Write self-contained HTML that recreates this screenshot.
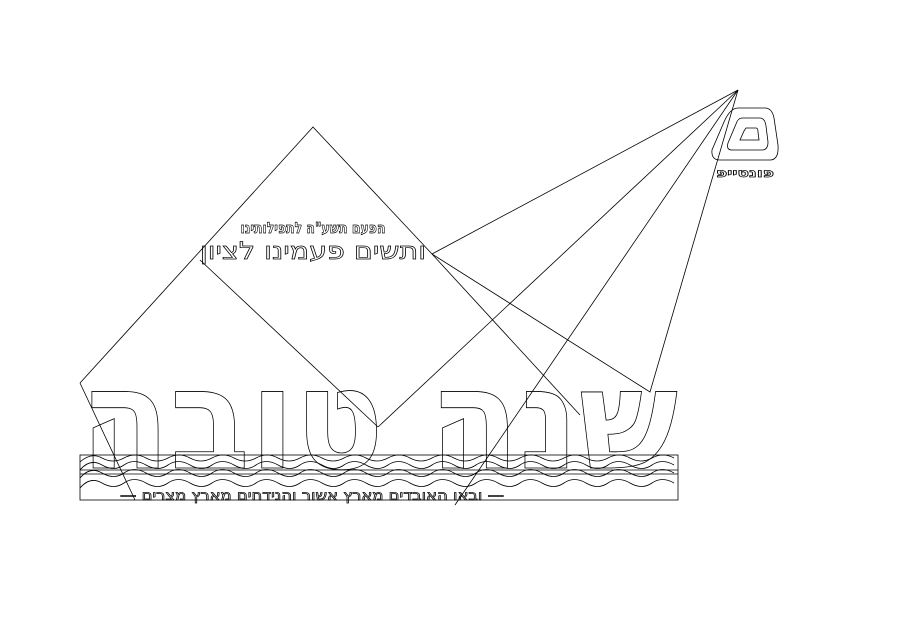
<!DOCTYPE html>
<html><head><meta charset="utf-8"><style>
html,body{margin:0;padding:0;background:#fff;}
svg{display:block}
</style></head><body>
<svg width="899" height="636" viewBox="0 0 899 636" xmlns="http://www.w3.org/2000/svg">
<g stroke="#000" stroke-width="0.8" fill="none">
<polyline points="80,383 313,127 432,254"/>
<line x1="200" y1="260" x2="378" y2="427"/>
<line x1="738" y1="90" x2="432" y2="254"/>
<line x1="738" y1="90" x2="378" y2="427"/>
<polyline points="738,90 650,392 432,254"/>
<line x1="432" y1="254" x2="580" y2="415"/>
<path d="M738,108 L765,108 Q772,108 774,118 L778,145 Q779,160 770,160 L720,160 Q711,160 712,150 L724,122 Q730,108 738,108 Z"/>
<path d="M742,118 L760,118 Q765,118 766,126 L768,142 Q768,150 762,150 L732,150 Q726,150 728,143 L736,124 Q738,118 742,118 Z"/>
<path d="M746,128 L756,128 Q758,128 758,132 L759,140 L740,140 L744,131 Z"/>
</g>
<g font-family="'DejaVu Sans','Liberation Sans',sans-serif" fill="none" stroke="#000" stroke-width="0.8">
<text x="379" y="468" font-size="140" font-weight="bold" text-anchor="middle" textLength="598" lengthAdjust="spacingAndGlyphs" direction="rtl">שנה טובה</text>
</g>
<g stroke="#000" stroke-width="0.8" fill="none">
<rect x="80" y="455" width="598" height="45"/>
<line x1="80" y1="470" x2="678" y2="470"/>
<line x1="80" y1="474" x2="678" y2="474"/>
<path d="M80,462 q11,-10 22,-4 t22,0 t22,0 t22,0 t22,0 t22,0 t22,0 t22,0 t22,0 t22,0 t22,0 t22,0 t22,0 t22,0 t22,0 t22,0 t22,0 t22,0 t22,0 t22,0 t22,0 t22,0 t22,0 t22,0 t22,0 t22,0 t22,0"/>
<path d="M80,470 q10,-12 22,-5 t22,0 t22,0 t22,0 t22,0 t22,0 t22,0 t22,0 t22,0 t22,0 t22,0 t22,0 t22,0 t22,0 t22,0 t22,0 t22,0 t22,0 t22,0 t22,0 t22,0 t22,0 t22,0 t22,0 t22,0 t22,0 t22,0"/>
<path d="M80,478 q10,-12 22,-5 t22,0 t22,0 t22,0 t22,0 t22,0 t22,0 t22,0 t22,0 t22,0 t22,0 t22,0 t22,0 t22,0 t22,0 t22,0 t22,0 t22,0 t22,0 t22,0 t22,0 t22,0 t22,0 t22,0 t22,0 t22,0 t22,0"/>
<path d="M80,488 q10,-12 22,-5 t22,0 t22,0 t22,0 t22,0 t22,0 t22,0 t22,0 t22,0 t22,0 t22,0 t22,0 t22,0 t22,0 t22,0 t22,0 t22,0 t22,0 t22,0 t22,0 t22,0 t22,0 t22,0 t22,0 t22,0 t22,0 t22,0"/>
<line x1="80" y1="383" x2="135" y2="500"/>
<line x1="738" y1="90" x2="455" y2="505"/>
</g>
<g font-family="'DejaVu Sans','Liberation Sans',sans-serif" fill="none" stroke="#000" stroke-width="0.7">
<text x="313" y="233" font-size="15" font-weight="bold" text-anchor="middle" textLength="145" lengthAdjust="spacingAndGlyphs" direction="rtl">הפעם תשע"ה לתפילותינו</text>
<text x="313" y="259" font-size="24" text-anchor="middle" textLength="226" lengthAdjust="spacingAndGlyphs" direction="rtl">ותשים פעמינו לציון</text>
<text x="745" y="177" font-size="12" font-weight="bold" text-anchor="middle" textLength="58" lengthAdjust="spacingAndGlyphs" direction="rtl">פונטייפ</text>
<text x="312" y="500" font-size="14" text-anchor="middle" textLength="384" lengthAdjust="spacingAndGlyphs" direction="rtl">— ובאו האובדים מארץ אשור והנידחים מארץ מצרים —</text>
</g>
</svg>
</body></html>
